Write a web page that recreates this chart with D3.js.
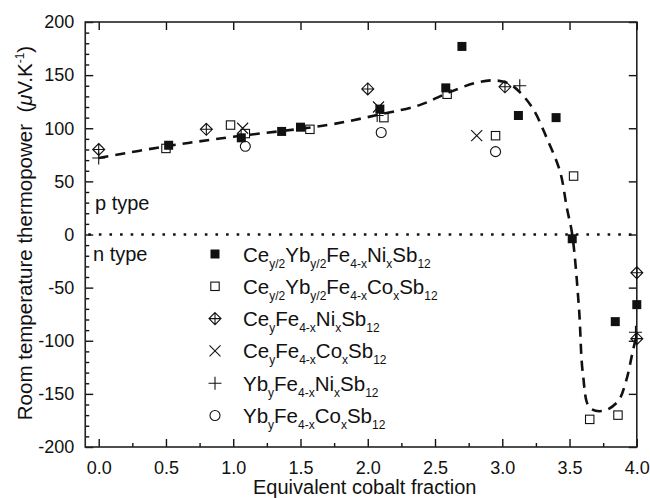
<!DOCTYPE html>
<html><head><meta charset="utf-8">
<script src="https://cdn.jsdelivr.net/npm/d3@7"></script>
<style>
html,body{margin:0;padding:0;background:#fff;}
svg text{font-family:"Liberation Sans",Arial,Helvetica,sans-serif;fill:#111;}
</style></head>
<body>
<svg id="chart" width="650" height="498"></svg>
<script>
// ---- data ----
const seriesCeYbNi = [[0.52,84],[1.06,91],[1.36,97],[1.50,101],[2.09,118],[2.58,138],[2.70,177],[3.12,112],[3.40,110],[3.52,-4],[3.84,-82],[4.0,-66]];
const seriesCeYbCo = [[0.50,81],[0.98,103],[1.09,95],[1.57,99],[2.12,110],[2.59,132],[2.95,93],[3.53,55],[3.65,-174],[3.86,-170]];
const seriesCeNi = [[0.0,80],[0.80,99],[2.00,137],[3.02,139],[4.0,-36],[4.0,-98]];
const seriesCeCo = [[1.07,100],[2.08,120],[2.81,93]];
const seriesYbNi = [[0.0,72],[2.07,112],[3.13,140],[3.99,-92]];
const seriesYbCo = [[1.09,83],[2.10,96],[2.95,78]];
const guideCurve = [[0,72],[0.5,83],[1.0,92],[1.7,103],[2.09,113],[2.39,122],[2.59,133],[2.81,143],[2.95,145],[3.05,142],[3.13,134],[3.23,118],[3.33,91],[3.43,59],[3.48,25],[3.52,0],[3.57,-69],[3.60,-132],[3.65,-163],[3.75,-166],[3.86,-157],[3.92,-138],[3.97,-110],[4.0,-94]];
const xTicks = [0,0.5,1,1.5,2,2.5,3,3.5,4];
const xTickLabels = ["0.0","0.5","1.0","1.5","2.0","2.5","3.0","3.5","4.0"];
const yTicks = [-200,-150,-100,-50,0,50,100,150,200];
const yTickLabels = ["-200","-150","-100","-50","0","50","100","150","200"];
const legendLabels = [
  [["Ce",0],["y/2",1],["Yb",0],["y/2",1],["Fe",0],["4-x",1],["Ni",0],["x",1],["Sb",0],["12",1]],
  [["Ce",0],["y/2",1],["Yb",0],["y/2",1],["Fe",0],["4-x",1],["Co",0],["x",1],["Sb",0],["12",1]],
  [["Ce",0],["y",1],["Fe",0],["4-x",1],["Ni",0],["x",1],["Sb",0],["12",1]],
  [["Ce",0],["y",1],["Fe",0],["4-x",1],["Co",0],["x",1],["Sb",0],["12",1]],
  [["Yb",0],["y",1],["Fe",0],["4-x",1],["Ni",0],["x",1],["Sb",0],["12",1]],
  [["Yb",0],["y",1],["Fe",0],["4-x",1],["Co",0],["x",1],["Sb",0],["12",1]]
];
const markerKinds = ["fillsq","opensq","diamplus","cross","plus","circle"];
const allSeries = [seriesCeYbNi, seriesCeYbCo, seriesCeNi, seriesCeCo, seriesYbNi, seriesYbCo];

// ---- layout ----
const svg = d3.select("#chart");
const x = d3.scaleLinear().domain([-0.1, 4.0]).range([85.25, 636.8]);
const y = d3.scaleLinear().domain([-200, 200]).range([447, 22]);
const X0 = x.range()[0], X1 = x.range()[1], Y0 = y.range()[0], Y1 = y.range()[1];
const ink = "#111";

// zero dotted line
svg.append("line").attr("x1", X0).attr("x2", X1).attr("y1", y(0)).attr("y2", y(0))
  .attr("stroke", ink).attr("stroke-width", 2.6).attr("stroke-dasharray", "2.6,8").attr("stroke-dashoffset", -3);

// axes
const minorX = d3.range(-0.0, 4.01, 0.25).filter(v => Math.abs(v*2 - Math.round(v*2)) > 1e-6);
const minorY = d3.range(-200, 201, 10).filter(v => v % 50 !== 0);
svg.append("g").attr("transform", `translate(0,${Y0})`)
  .call(d3.axisBottom(x).tickValues(xTicks).tickFormat((d,i) => xTickLabels[i]).tickSizeInner(-8).tickSizeOuter(0).tickPadding(14));
svg.append("g").attr("transform", `translate(0,${Y0})`)
  .call(d3.axisBottom(x).tickValues(minorX).tickFormat("").tickSizeInner(-4).tickSizeOuter(0));
svg.append("g").attr("transform", `translate(${X0},0)`)
  .call(d3.axisLeft(y).tickValues(yTicks).tickFormat((d,i) => yTickLabels[i]).tickSizeInner(-8).tickSizeOuter(0).tickPadding(11));
svg.append("g").attr("transform", `translate(${X0},0)`)
  .call(d3.axisLeft(y).tickValues(minorY).tickFormat("").tickSizeInner(-4).tickSizeOuter(0));
svg.append("g").attr("transform", `translate(0,${Y1})`)
  .call(d3.axisTop(x).tickValues(xTicks).tickFormat("").tickSizeInner(-8).tickSizeOuter(0));
svg.append("g").attr("transform", `translate(${X1},0)`)
  .call(d3.axisRight(y).tickValues(yTicks).tickFormat("").tickSizeInner(-8).tickSizeOuter(0));
svg.selectAll(".domain").remove();
svg.selectAll(".tick line").attr("stroke", ink).attr("stroke-width", 1.4);
svg.selectAll(".tick text").attr("font-size", 18).attr("font-family", '"Liberation Sans",Arial,sans-serif').attr("fill", ink);
svg.append("rect").attr("x", X0).attr("y", Y1).attr("width", X1 - X0).attr("height", Y0 - Y1)
  .attr("fill", "none").attr("stroke", "#222").attr("stroke-width", 1.6);

// guide curve
svg.append("path").datum(guideCurve)
  .attr("d", d3.line().x(d => x(d[0])).y(d => y(d[1])).curve(d3.curveCatmullRom.alpha(0.5)))
  .attr("fill", "none").attr("stroke", ink).attr("stroke-width", 2.6).attr("stroke-dasharray", "10,7");

// markers
function drawMarker(g, kind, cx, cy) {
  if (kind === "fillsq") {
    g.append("rect").attr("x", cx-4.5).attr("y", cy-4.5).attr("width", 9).attr("height", 9).attr("fill", ink);
  } else if (kind === "opensq") {
    g.append("rect").attr("x", cx-4.2).attr("y", cy-4.2).attr("width", 8.4).attr("height", 8.4)
      .attr("fill", "none").attr("stroke", ink).attr("stroke-width", 1.1);
  } else if (kind === "diamplus") {
    const r = 6;
    g.append("path").attr("d", `M${cx},${cy-r}L${cx+r},${cy}L${cx},${cy+r}L${cx-r},${cy}Z M${cx-r},${cy}L${cx+r},${cy} M${cx},${cy-r}L${cx},${cy+r}`)
      .attr("fill", "none").attr("stroke", ink).attr("stroke-width", 1.1);
  } else if (kind === "cross") {
    const r = 5.5;
    g.append("path").attr("d", `M${cx-r},${cy-r}L${cx+r},${cy+r}M${cx-r},${cy+r}L${cx+r},${cy-r}`)
      .attr("fill", "none").attr("stroke", ink).attr("stroke-width", 1.1);
  } else if (kind === "plus") {
    const r = 6.5;
    g.append("path").attr("d", `M${cx-r},${cy}L${cx+r},${cy}M${cx},${cy-r}L${cx},${cy+r}`)
      .attr("fill", "none").attr("stroke", ink).attr("stroke-width", 1.1);
  } else if (kind === "circle") {
    g.append("circle").attr("cx", cx).attr("cy", cy).attr("r", 5)
      .attr("fill", "none").attr("stroke", ink).attr("stroke-width", 1.1);
  }
}
const pts = svg.append("g");
allSeries.forEach((s, i) => s.forEach(d => drawMarker(pts, markerKinds[i], x(d[0]), y(d[1]))));

// legend
const lg = svg.append("g");
legendLabels.forEach((parts, i) => {
  const cy = 254 + i * 32.3;
  drawMarker(lg, markerKinds[i], 215, cy);
  const t = lg.append("text").attr("x", 243).attr("y", cy + 7.5).attr("font-size", 20.5);
  let prevSub = false;
  parts.forEach(([s, sub]) => {
    const ts = t.append("tspan").text(s);
    if (sub) { ts.attr("font-size", 12).attr("dy", prevSub ? 0 : 6); }
    else { ts.attr("dy", prevSub ? -6 : 0); }
    prevSub = !!sub;
  });
});

// annotations
svg.append("text").attr("x", 95).attr("y", 210).attr("font-size", 20).text("p type");
svg.append("text").attr("x", 93).attr("y", 260.5).attr("font-size", 20).text("n type");

// axis titles
svg.append("text").attr("x", (x(0)+x(4))/2 - 3).attr("y", 494).attr("text-anchor", "middle")
  .attr("font-size", 20).text("Equivalent cobalt fraction");
const yt = svg.append("text").attr("transform", "translate(32,233) rotate(-90)")
  .attr("text-anchor", "middle").attr("font-size", 20.5);
yt.append("tspan").text("Room temperature thermopower\u00a0\u00a0(");
yt.append("tspan").attr("font-style", "italic").text("\u03bc");
yt.append("tspan").text("V.K");
yt.append("tspan").attr("font-size", 12).attr("dy", -8).text("-1");
yt.append("tspan").attr("dy", 8).text(")");
</script>
</body></html>
